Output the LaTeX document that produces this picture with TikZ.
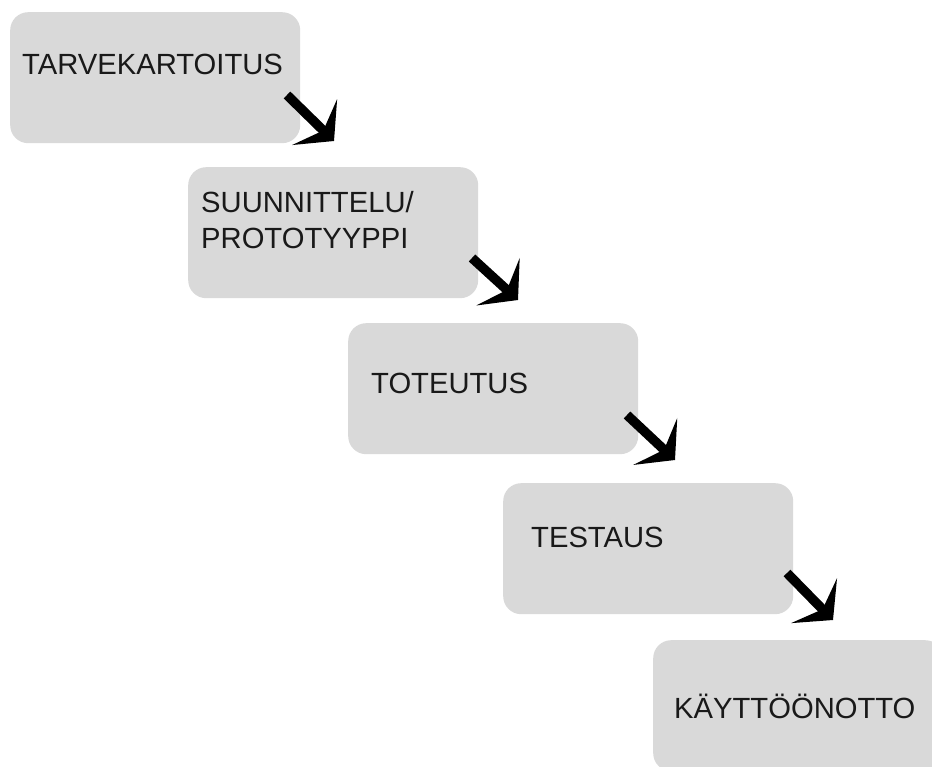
\documentclass[tikz,border=0pt]{standalone}
\usepackage{fontspec}
\setmainfont{Liberation Sans}
\usetikzlibrary{arrows.meta}
\definecolor{boxgray}{RGB}{217,217,217}
\tikzset{
  stepbox/.style={fill=boxgray, draw=none, rounded corners=18pt, minimum width=290pt, minimum height=131pt, anchor=north west, inner sep=0pt},
  lbl/.style={anchor=base west, inner sep=0pt, align=left, font=\fontsize{29.2}{36}\selectfont, text=black!90},
  arr/.style={line width=9.5pt, black, -{Stealth[length=27pt, width=64pt, inset=12pt]}}
}
\begin{document}
\begin{tikzpicture}[x=1pt,y=-1pt]
\useasboundingbox (0,0) rectangle (932,767);
\clip (0,0) rectangle (932,767);
\node[stepbox] (b1) at (10,12) {};
\node[stepbox] (b2) at (188,167) {};
\node[stepbox] (b3) at (348,323) {};
\node[stepbox] (b4) at (503,483) {};
\node[stepbox] (b5) at (653,640) {};
\node[lbl] (t1) at (22,75) {TARVEKARTOITUS};
\node[lbl] (t2) at (201,249) {SUUNNITTELU/\\PROTOTYYPPI};
\node[lbl] (t3) at (371,393) {TOTEUTUS};
\node[lbl] (t4) at (531,547) {TESTAUS};
\node[lbl] (t5) at (674,718) {KÄYTTÖÖNOTTO};
\coordinate (a1s) at (287,95);
\coordinate (a1e) at (334,141);
\coordinate (a2s) at (472,258);
\coordinate (a2e) at (518,300);
\coordinate (a3s) at (627,415);
\coordinate (a3e) at (675,460);
\coordinate (a4s) at (787,573);
\coordinate (a4e) at (833,620);
\draw[arr] (a1s) -- (a1e);
\draw[arr] (a2s) -- (a2e);
\draw[arr] (a3s) -- (a3e);
\draw[arr] (a4s) -- (a4e);
\end{tikzpicture}
\end{document}
